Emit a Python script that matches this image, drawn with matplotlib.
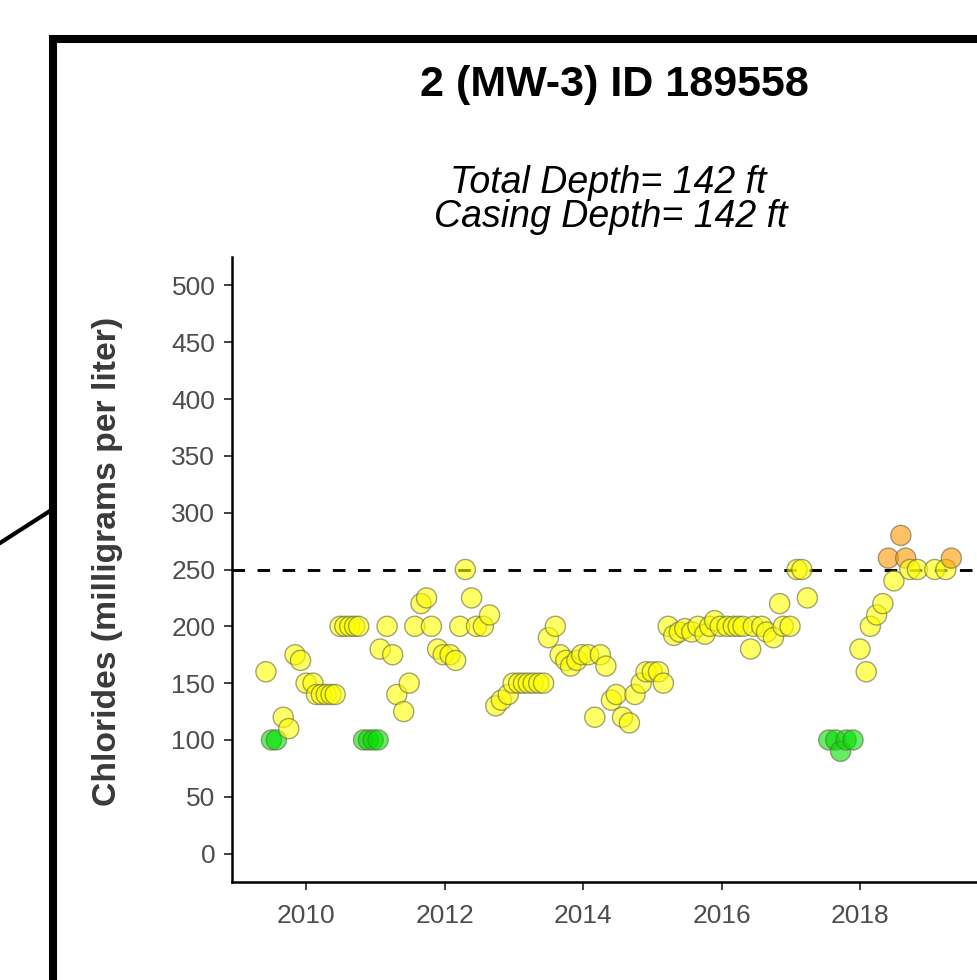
import matplotlib.pyplot as plt
import matplotlib.patches as mpatches
from matplotlib.lines import Line2D
import numpy as np

plt.rcParams['font.family'] = ['Liberation Sans', 'DejaVu Sans']

# decimal year of each sample and chloride value (mg/L)
fechas = [2009.42, 2009.50, 2009.57, 2009.67, 2009.75, 2009.84, 2009.92,
          2010.00, 2010.10, 2010.15, 2010.22, 2010.29, 2010.36, 2010.42,
          2010.49, 2010.56, 2010.63, 2010.70, 2010.76,
          2010.83, 2010.90, 2010.97, 2011.04,
          2011.07, 2011.17, 2011.25, 2011.31, 2011.41, 2011.49, 2011.57,
          2011.66, 2011.74, 2011.81, 2011.90, 2011.98, 2012.08, 2012.16,
          2012.22, 2012.30, 2012.39, 2012.46, 2012.56, 2012.65,
          2012.74, 2012.82, 2012.92, 2012.99, 2013.07, 2013.14, 2013.21,
          2013.28, 2013.36, 2013.43, 2013.50, 2013.60, 2013.67, 2013.75,
          2013.82, 2013.91, 2013.98, 2014.08, 2014.17, 2014.25, 2014.33,
          2014.41, 2014.48, 2014.57, 2014.67, 2014.75, 2014.84, 2014.91,
          2015.00, 2015.09, 2015.16, 2015.23, 2015.31, 2015.39, 2015.47,
          2015.57, 2015.66, 2015.76, 2015.83, 2015.90, 2015.98, 2016.08,
          2016.17, 2016.24, 2016.31, 2016.42, 2016.46, 2016.58, 2016.65,
          2016.75, 2016.84, 2016.89, 2016.99, 2017.09, 2017.16, 2017.24,
          2017.55, 2017.65, 2017.72, 2017.80, 2017.90,
          2018.00, 2018.09, 2018.15, 2018.24, 2018.33, 2018.41, 2018.49,
          2018.59, 2018.66, 2018.72, 2018.83, 2019.08, 2019.24, 2019.32]
cloruros = [160, 100, 100, 120, 110, 175, 170,
            150, 150, 140, 140, 140, 140, 140,
            200, 200, 200, 200, 200,
            100, 100, 100, 100,
            180, 200, 175, 140, 125, 150, 200,
            220, 225, 200, 180, 175, 175, 170,
            200, 250, 225, 200, 200, 210,
            130, 135, 140, 150, 150, 150, 150,
            150, 150, 150, 190, 200, 175, 170,
            165, 170, 175, 175, 120, 175, 165,
            135, 140, 120, 115, 140, 150, 160,
            160, 160, 150, 200, 192, 195, 198,
            195, 200, 193, 200, 205, 200, 200,
            200, 200, 200, 180, 200, 200, 195,
            190, 220, 200, 200, 250, 250, 225,
            100, 100, 90, 100, 100,
            180, 160, 200, 210, 220, 260, 240,
            280, 260, 250, 250, 250, 250, 260]

limite = 250
yticks = [0, 50, 100, 150, 200, 250, 300, 350, 400, 450, 500]
xticks = [2010, 2012, 2014, 2016, 2018]


def color_punto(v):
    if v <= 100:
        return '#00E000'
    if v <= limite:
        return '#FFFF00'
    return '#FF9900'


fig = plt.figure(figsize=(9.77, 9.80), dpi=100)

# marco negro recortado
marco = mpatches.Rectangle((53 / 977, -0.2), 2.0, 0.2 + (1 - 39 / 980),
                           transform=fig.transFigure, fill=False,
                           edgecolor='black', linewidth=5.8, zorder=0)
fig.patches.append(marco)
fig.lines.append(Line2D([0, 53 / 977], [1 - 543 / 980, 1 - 509 / 980],
                        transform=fig.transFigure, color='black', linewidth=3))

ax = fig.add_axes([232 / 977, 98 / 980, 808 / 977, 625 / 980])
colores = [color_punto(v) for v in cloruros]
ax.scatter(fechas, cloruros, s=210, c=colores, alpha=0.6,
           edgecolors='#666644', linewidths=1.0, zorder=3)
ax.axhline(limite, color='black', linewidth=2.1, dashes=(4.3, 4.3), zorder=2)

ax.set_xlim(2008.93, 2020.6)
ax.set_ylim(-25, 525)
ax.set_xticks(xticks)
ax.set_yticks(yticks)
ax.tick_params(axis='both', labelsize=19, labelcolor='#4D4D4D',
               color='#333333', length=6, width=1.3, pad=6)
ax.tick_params(axis='x', pad=9.5)
for s in ['top', 'right']:
    ax.spines[s].set_visible(False)
for s in ['left', 'bottom']:
    ax.spines[s].set_linewidth(1.8)
ax.set_ylabel('Chlorides (milligrams per liter)', fontsize=24.3,
              fontweight='bold', color='#3A3A3A')
ax.yaxis.set_label_coords(-0.135, 0.513)

fig.text(614 / 977, 1 - 85 / 980, '2 (MW-3) ID 189558', ha='center',
         va='center', fontsize=31, fontweight='bold')
fig.text(608 / 977, 1 - 183 / 980, 'Total Depth= 142 ft', ha='center',
         va='center', fontsize=27, style='italic')
fig.text(611 / 977, 1 - 217 / 980, 'Casing Depth= 142 ft', ha='center',
         va='center', fontsize=27, style='italic')

fig.savefig('out.png', dpi=100)
